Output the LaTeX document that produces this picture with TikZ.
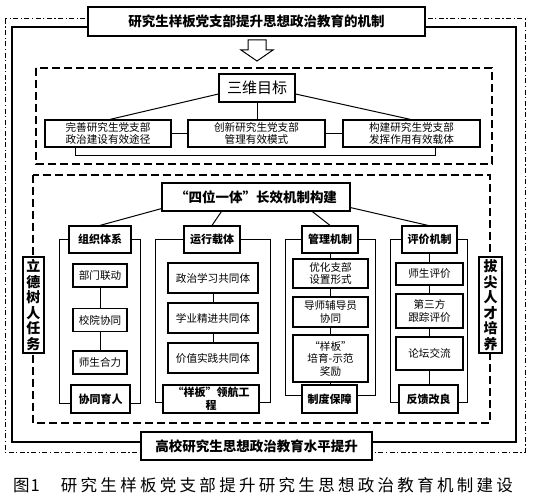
\documentclass[tikz,border=0pt]{standalone}
\usepackage{fontspec}
\setmainfont{Noto Sans CJK SC}
\usetikzlibrary{calc}
\newcommand\fsTitle{\fontsize{13.5}{15}\selectfont\bfseries}
\newcommand\fsGoal{\fontsize{15}{17}\selectfont}
\newcommand\fsSmall{\fontsize{10.6}{12.5}\selectfont}
\newcommand\fsHead{\fontsize{11}{13}\selectfont\bfseries}
\newcommand\fsVert{\fontsize{14}{15.5}\selectfont\bfseries}
\newcommand\fsCap{\fontsize{16.5}{18}\selectfont}
\newcommand\capsp{\kern3.3pt}
\tikzset{
  bx/.style={draw, line width=1.2pt, fill=white, inner sep=0pt, align=center},
  ln/.style={line width=1pt},
  dashdotline/.style={line width=1pt, dash pattern=on 5pt off 2.5pt on 1.2pt off 2.5pt},
  dashline/.style={line width=1.3pt, dash pattern=on 8pt off 4pt},
}
\begin{document}
\begin{tikzpicture}[x=1pt,y=-1pt]
\useasboundingbox (0,0) rectangle (539,503);
\fill[white] (0,0) rectangle (539,503);
% frames
\draw[dashdotline] (5,19) rectangle (525,452);
\draw[line width=1.2pt] (12,27) rectangle (516,442);
\draw[dashline] (36,68) rectangle (492,164);
\draw[dashline] (33,175) rectangle (490,423);
% title
\node[bx, minimum width=337, minimum height=29, font=\fsTitle] (title) at (256.5,21.5) {研究生样板党支部提升思想政治教育的机制};
% hollow arrow
\draw[line width=1pt, fill=white] (248,40) -- (266,40) -- (266,50) -- (273,50) -- (257,61) -- (241,50) -- (248,50) -- cycle;
% three-dimensional goals
\node[bx, minimum width=76, minimum height=28, font=\fsGoal] (sanwei) at (257,88) {三维目标};
\node[bx, minimum width=126, minimum height=27, font=\fsSmall] (g1) at (108,133.5) {完善研究生党支部\\政治建设有效途径};
\node[bx, minimum width=137, minimum height=27, font=\fsSmall] (g2) at (256.5,133.5) {创新研究生党支部\\管理有效模式};
\node[bx, minimum width=137, minimum height=27, font=\fsSmall] (g3) at (411.5,133.5) {构建研究生党支部\\发挥作用有效载体};
\draw[ln] ($(sanwei.west)+(0,6)$) -- ($(g1.north)+(2,0)$);
\draw[ln] (sanwei.south) -- (sanwei.south |- g2.north);
\draw[ln] ($(sanwei.east)+(0,6)$) -- ($(g3.north)+(-1,0)$);
\draw[ln] (g1.east) -- (g2.west);
\draw[ln] (g2.east) -- (g3.west);
\draw[ln] ($(g1.south west)+(31,0)$) -- ++(0,8) -| ($(g3.south west)+(93,0)$);
% four-in-one
\node[bx, minimum width=188, minimum height=28, font=\fsTitle] (sibox) at (256,197) {“四位一体”长效机制构建};
% column headers
\node[bx, minimum width=62, minimum height=27, font=\fsHead] (h1) at (100,239.5) {组织体系};
\node[bx, minimum width=56, minimum height=27, font=\fsHead] (h2) at (212,239.5) {运行载体};
\node[bx, minimum width=56, minimum height=27, font=\fsHead] (h3) at (330,239.5) {管理机制};
\node[bx, minimum width=55, minimum height=27, font=\fsHead] (h4) at (429.5,239.5) {评价机制};
\draw[ln] ($(sibox.south west)+(0,-3)$) -- (h1.north);
\draw[ln] ($(sibox.south west)+(60,0)$) -- (h2.north);
\draw[ln] ($(sibox.south west)+(151,0)$) -- (h3.north);
\draw[ln] ($(sibox.south east)+(0,-4)$) -- ($(h4.north)+(-1.5,0)$);
% footers
\node[bx, minimum width=59, minimum height=28, font=\fsHead] (f1) at (100.5,399) {协同育人};
\node[bx, minimum width=96, minimum height=28, font=\fsHead] (f2) at (211,399) {“样板”领航工\\程};
\node[bx, minimum width=55, minimum height=28, font=\fsHead] (f3) at (329.5,399) {制度保障};
\node[bx, minimum width=59, minimum height=28, font=\fsHead] (f4) at (428.5,399) {反馈改良};
% brackets
\draw[ln] (h1.west) -| ($(f1.west)+(-11,4)$) -- ($(f1.west)+(0,4)$);
\draw[ln] (h1.east) -| ($(f1.east)+(10,4)$) -- ($(f1.east)+(0,4)$);
\draw[ln] (h2.west) -| ($(f2.west)+(-7,3)$) -- ($(f2.west)+(0,3)$);
\draw[ln] (h2.east) -| ($(f2.east)+(11,3)$) -- ($(f2.east)+(0,3)$);
\draw[ln] (h3.west) -| ($(f3.west)+(-16,-4)$) -- ($(f3.west)+(0,-4)$);
\draw[ln] (h3.east) -| ($(f3.east)+(18,-4)$) -- ($(f3.east)+(0,-4)$);
\draw[ln] (h4.west) -| ($(f4.west)+(-8,3)$) -- ($(f4.west)+(0,3)$);
\draw[ln] (h4.east) -| ($(f4.east)+(9,3)$) -- ($(f4.east)+(0,3)$);
% column 1
\node[bx, minimum width=54, minimum height=23, font=\fsSmall] (a1) at (100,275.5) {部门联动};
\node[bx, minimum width=54, minimum height=23, font=\fsSmall] (a2) at (100,320) {校院协同};
\node[bx, minimum width=54, minimum height=23, font=\fsSmall] (a3) at (100,362.5) {师生合力};
\draw[ln] (a1) -- (a2);
\draw[ln] (a2) -- (a3);
% column 2
\node[bx, minimum width=90, minimum height=30, font=\fsSmall] (b1) at (213,278) {政治学习共同体};
\node[bx, minimum width=90, minimum height=30, font=\fsSmall] (b2) at (213,318) {学业精进共同体};
\node[bx, minimum width=90, minimum height=30, font=\fsSmall] (b3) at (213,358) {价值实践共同体};
\draw[ln] (b1) -- (b2);
\draw[ln] (b2) -- (b3);
% column 3
\node[bx, minimum width=75, minimum height=29, font=\fsSmall] (c1) at (330.5,273.5) {优化支部\\设置形式};
\node[bx, minimum width=75, minimum height=30, font=\fsSmall] (c2) at (330.5,312) {导师辅导员\\协同};
\node[bx, minimum width=75, minimum height=47, font=\fsSmall] (c3) at (330.5,358.5) {“样板”\\培育-示范\\奖励};
\draw[ln] (h3.south) -- (h3.south |- c1.north);
\draw[ln] (c1) -- (c2);
\draw[ln] (c2) -- (c3);
\draw[ln] (c3.south) -- (c3.south |- f3.north);
% column 4
\node[bx, minimum width=67, minimum height=22, font=\fsSmall] (d1) at (429.5,274) {师生评价};
\node[bx, minimum width=67, minimum height=34, font=\fsSmall] (d2) at (429.5,311) {第三方\\跟踪评价};
\node[bx, minimum width=67, minimum height=33, font=\fsSmall] (d3) at (429.5,353.5) {论坛交流};
\draw[ln] (h4.south) -- (h4.south |- d1.north);
\draw[ln] (d1) -- (d2);
\draw[ln] (d2) -- (d3);
\draw[ln] (d3.south) -- (d3.south |- f4.north);
% side boxes
\node[bx, minimum width=21, minimum height=96, font=\fsVert] (ldsr) at (33.5,305) {立\\德\\树\\人\\任\\务};
\node[bx, minimum width=23, minimum height=96, font=\fsVert] (bjrc) at (490.5,305) {拔\\尖\\人\\才\\培\\养};
% bottom box
\node[bx, minimum width=231, minimum height=28, font=\fsTitle] (bottom) at (256.5,446) {高校研究生思想政治教育水平提升};
% caption
\node[anchor=west, inner sep=0pt, font=\fsCap] (cap) at (13,485) {图\kern1pt{}1\hspace{21pt}研\capsp{}究\capsp{}生\capsp{}样\capsp{}板\capsp{}党\capsp{}支\capsp{}部\capsp{}提\capsp{}升\capsp{}研\capsp{}究\capsp{}生\capsp{}思\capsp{}想\capsp{}政\capsp{}治\capsp{}教\capsp{}育\capsp{}机\capsp{}制\capsp{}建\capsp{}设};
\end{tikzpicture}
\end{document}
